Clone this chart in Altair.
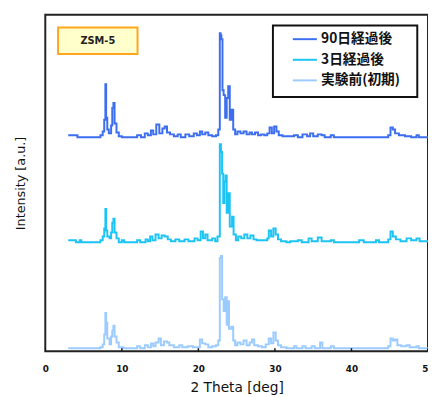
import altair as alt
import pandas as pd

series_names = ["90日経過後", "3日経過後", "実験前(初期)"]
series_colors = ["#3D6EF0", "#1CC4F5", "#9CCBFF"]
offsets = [218, 111, 3]

x_90 = [3.0, 4.2, 7.2, 7.5, 7.7, 7.85, 7.95, 8.1, 8.3, 8.6, 8.75, 8.9, 9.05, 9.3, 9.6, 10.0, 12.0, 12.5, 13.0, 13.4,
        13.8, 14.1, 14.5, 14.9, 15.3, 15.6, 15.9, 16.3, 16.8, 17.3, 17.7, 18.3, 18.8, 19.4, 19.8, 20.2, 20.5, 20.9,
        21.3, 21.8, 22.3, 22.6, 22.8, 22.9, 23.0, 23.15, 23.3, 23.5, 23.7, 23.9, 24.1, 24.35, 24.55, 24.8, 25.1,
        25.5, 25.9, 26.3, 26.7, 27.0, 27.4, 27.8, 28.2, 28.6, 29.0, 29.3, 29.6, 29.9, 30.2, 30.5, 31.0, 32.5, 33.0,
        33.6, 34.2, 34.6, 35.0, 35.6, 36.1, 36.5, 37.3, 37.7, 39.5, 44.8, 45.1, 45.4, 45.7, 46.2, 47.0, 47.8, 48.5,
        48.8, 50.5]
y_90 = [2, 0, 2, 6, 18, 54, 20, 8, 4, 12, 30, 35, 14, 5, 1, 0, 2, 0, 4, 2,
        7, 3, 13, 4, 9, 11, 5, 3, 1, 3, 0, 3, 1, 4, 2, 6, 3, 5,
        2, 1, 2, 8, 106, 104, 100, 48, 43, 20, 40, 52, 18, 28, 8, 3, 6,
        4, 6, 3, 5, 3, 5, 2, 3, 2, 4, 10, 4, 11, 6, 2, 1, 2, 0,
        3, 1, 4, 1, 3, 2, 0, 2, 0, 0, 2, 10, 8, 4, 2, 1, 0, 2,
        0, 0]

x_3 = [3.0, 4.0, 4.5, 4.7, 7.2, 7.5, 7.7, 7.85, 7.95, 8.1, 8.4, 8.6, 8.75, 8.9, 9.05, 9.3, 9.6, 10.0, 10.3, 12.0,
       12.4, 13.1, 13.4, 13.7, 14.0, 14.4, 14.8, 15.2, 15.6, 16.0, 16.4, 17.0, 17.5, 18.2, 18.7, 19.5, 19.9, 20.3,
       20.6, 20.9, 21.2, 21.8, 22.2, 22.5, 22.8, 22.95, 23.1, 23.25, 23.4, 23.55, 23.7, 23.9, 24.1, 24.4, 24.6,
       24.9, 25.2, 25.6, 26.0, 26.4, 26.8, 27.2, 27.6, 28.3, 28.7, 29.0, 29.2, 29.5, 29.8, 30.1, 30.4, 30.8, 31.5,
       32.0, 33.0, 33.5, 34.4, 34.8, 35.6, 36.1, 37.3, 37.7, 41.0, 41.6, 43.2, 43.6, 44.8, 45.1, 45.4, 45.8, 46.4,
       47.2, 47.8, 48.5, 48.9, 50.5]
y_3 = [2, 0, 2, 0, 2, 6, 14, 34, 12, 6, 4, 10, 20, 24, 10, 4, 0, 2, 0, 2,
       0, 3, 1, 6, 2, 8, 4, 7, 6, 3, 1, 3, 1, 3, 1, 4, 2, 11,
       4, 8, 2, 4, 1, 6, 100, 92, 70, 40, 62, 68, 30, 50, 16, 26, 8,
       2, 6, 4, 8, 4, 7, 3, 2, 2, 2, 4, 12, 6, 14, 8, 3, 1, 0,
       1, 2, 0, 4, 1, 5, 1, 2, 0, 2, 0, 2, 0, 3, 11, 6, 3, 1,
       4, 2, 4, 1, 0]

x_0 = [3.0, 7.2, 7.5, 7.7, 7.85, 7.95, 8.1, 8.4, 8.6, 8.75, 8.9, 9.05, 9.3, 9.6, 10.2, 12.0, 12.4, 13.0, 13.4, 13.8,
       14.1, 14.4, 14.8, 15.1, 15.5, 15.9, 16.2, 16.8, 17.5, 17.9, 18.6, 19.3, 20.2, 20.5, 20.9, 21.3, 21.8, 22.3,
       22.6, 22.8, 22.95, 23.1, 23.3, 23.5, 23.7, 23.85, 24.0, 24.3, 24.55, 24.8, 25.1, 25.5, 25.9, 26.3, 26.7,
       27.0, 27.3, 27.8, 28.3, 28.8, 29.2, 29.5, 29.8, 30.1, 30.4, 30.8, 31.5, 32.5, 32.8, 33.6, 34.0, 34.8, 35.2,
       35.9, 36.2, 37.3, 37.7, 44.8, 45.1, 45.4, 45.7, 46.0, 46.5, 47.2, 47.6, 48.5, 48.8, 50.5]
y_0 = [0, 1, 4, 14, 36, 26, 10, 4, 12, 18, 23, 12, 6, 1, 0, 2, 0, 3, 1, 5,
       2, 6, 10, 3, 7, 6, 3, 1, 3, 1, 2, 1, 9, 5, 4, 1, 2, 3,
       8, 92, 94, 50, 38, 52, 24, 48, 20, 22, 8, 3, 6, 4, 8, 3, 6,
       9, 3, 2, 1, 4, 10, 5, 16, 8, 3, 1, 0, 2, 0, 2, 0, 2, 0,
       6, 0, 2, 0, 2, 10, 8, 9, 3, 2, 3, 1, 2, 0, 0]

x_ticks = [0, 10, 20, 30, 40, 50]

# annotation boxes (data units)
label_box_x = [1.67, 12.05]
label_box_y = [303, 330]
label_text = "ZSM-5"
legend_box_x = [29.74, 48.6]
legend_box_y = [259, 332]

rows = []
for name, off, xs, ys in zip(series_names, offsets, [x_90, x_3, x_0], [y_90, y_3, y_0]):
    for xv, yv in zip(xs, ys):
        rows.append({"series": name, "theta": xv, "intensity": yv + off})
df = pd.DataFrame(rows)

xscale = alt.Scale(domain=[0, 50], nice=False)
yscale = alt.Scale(domain=[0, 343], nice=False)

lines = alt.Chart(df).mark_line(interpolate="step-after", strokeWidth=2, clip=True).encode(
    x=alt.X("theta:Q", scale=xscale,
            axis=alt.Axis(title="2 Theta [deg]", values=x_ticks, format="d", grid=False, ticks=False,
                          domain=False, labelPadding=14, labelFontSize=9, labelFontWeight="bold",
                          labelFont="DejaVu Sans", labelColor="#111", titleFont="DejaVu Sans",
                          titleFontSize=14, titleFontWeight="normal", titlePadding=7, titleColor="#111",
                          labelFlush=False)),
    y=alt.Y("intensity:Q", scale=yscale,
            axis=alt.Axis(title="Intensity [a.u.]", labels=False, ticks=False, domain=False, grid=False,
                          titleFont="DejaVu Sans", titleFontSize=13, titleFontWeight="normal",
                          titlePadding=18, titleColor="#111")),
    color=alt.Color("series:N", scale=alt.Scale(domain=series_names, range=series_colors),
                    legend=alt.Legend(title=None, orient="none", legendX=251, legendY=11.5,
                                      symbolType="stroke", symbolSize=600, symbolStrokeWidth=2,
                                      labelFont="Noto Sans CJK JP", labelFontSize=14, labelFontWeight="bold",
                                      labelColor="#111", labelOffset=3, rowPadding=0, padding=0)),
    detail="series:N",
)

tick_df = pd.DataFrame({"t": x_ticks, "y0": [0] * len(x_ticks), "y1": [3] * len(x_ticks)})
ticks = alt.Chart(tick_df).mark_rule(color="#111", strokeWidth=1.5, clip=True).encode(
    x=alt.X("t:Q", scale=xscale), y=alt.Y("y0:Q", scale=yscale), y2="y1:Q")

lbl_df = pd.DataFrame({"x": [label_box_x[0]], "x2": [label_box_x[1]], "y": [label_box_y[0]],
                       "y2": [label_box_y[1]], "xc": [sum(label_box_x) / 2], "yc": [sum(label_box_y) / 2],
                       "text": [label_text]})
lbl_rect = alt.Chart(lbl_df).mark_rect(fill="#FFFFCC", stroke="#FFA51E", strokeWidth=2).encode(
    x=alt.X("x:Q", scale=xscale), x2="x2:Q", y=alt.Y("y:Q", scale=yscale), y2="y2:Q")
lbl_txt = alt.Chart(lbl_df).mark_text(font="DejaVu Sans", fontSize=10, fontWeight="bold", color="#222").encode(
    x=alt.X("xc:Q", scale=xscale), y=alt.Y("yc:Q", scale=yscale), text="text:N")

leg_df = pd.DataFrame({"x": [legend_box_x[0]], "x2": [legend_box_x[1]], "y": [legend_box_y[0]],
                       "y2": [legend_box_y[1]]})
leg_rect = alt.Chart(leg_df).mark_rect(fill="white", stroke="#111", strokeWidth=2).encode(
    x=alt.X("x:Q", scale=xscale), x2="x2:Q", y=alt.Y("y:Q", scale=yscale), y2="y2:Q")

chart = alt.layer(lines, ticks, lbl_rect, lbl_txt, leg_rect).properties(
    width=390, height=343,
    autosize=alt.AutoSizeParams(type="none"),
    padding={"left": 38, "top": 3, "right": 0, "bottom": 50},
    background="white",
).configure_view(stroke="#222", strokeWidth=2)

chart.save("out.html", embed_options={"renderer": "svg", "actions": False})
